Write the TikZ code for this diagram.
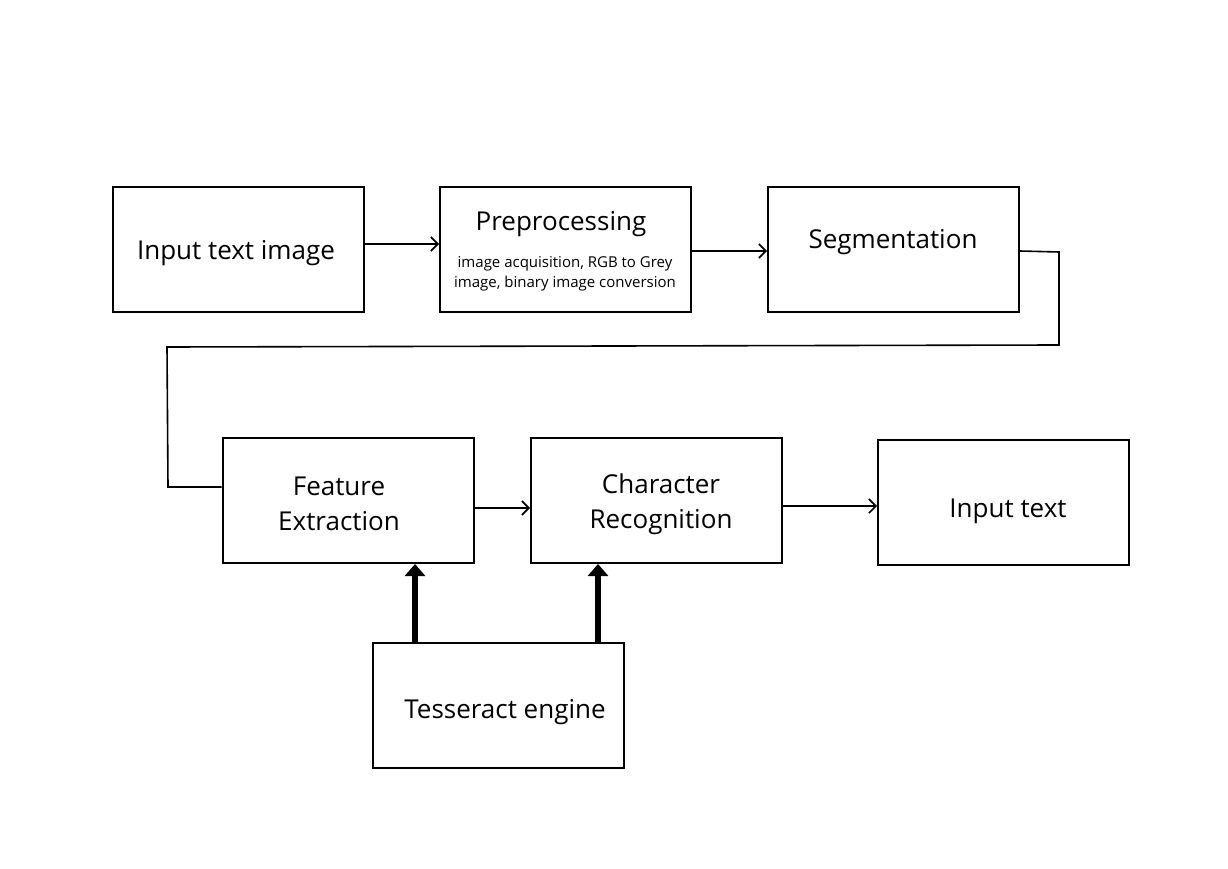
\documentclass[tikz,border=0pt]{standalone}
\usepackage{fontspec}
\setmainfont{Open Sans}
\usetikzlibrary{arrows.meta}
\begin{document}
\begin{tikzpicture}[x=1pt,y=-1pt,
  blk/.style={draw,line width=2pt,minimum width=251pt,minimum height=125pt,inner sep=0pt},
  big/.style={font=\fontsize{26}{35}\selectfont},
  small/.style={font=\fontsize{15}{20}\selectfont,align=center},
  conn/.style={line width=1.6pt},
  arr/.style={conn,-{Straight Barb[length=7pt,width=14pt,line width=1.6pt]}},
  thick arr/.style={line width=6pt,-{Triangle[length=12pt,width=20pt]}}]
\useasboundingbox (0,0) rectangle (1228,869);
\fill[white] (0,0) rectangle (1228,869);
\node[blk] (inp) at (238.5,249.5) {};
\node[big] (inpt) at (236,253) {Input text image};
\node[blk] (pre) at (565.5,249.5) {};
\node[big] (pret) at (561,224) {Preprocessing};
\node[small] (pres) at (565,274) {image acquisition, RGB to Grey\\image, binary image conversion};
\node[blk] (seg) at (893.5,249.5) {};
\node[big] (segt) at (893,242) {Segmentation};
\node[blk] (fe) at (348,500.5) {};
\node[big,align=center] (fet) at (339,504) {Feature\\Extraction};
\node[blk] (cr) at (656.5,500.5) {};
\node[big,align=center] (crt) at (661,504) {Character\\Recognition};
\node[blk] (out) at (1003.5,502.5) {};
\node[big] (outt) at (1008,511) {Input text};
\node[blk] (tes) at (498.5,705.5) {};
\node[big] (test) at (505,712) {Tesseract engine};
\draw[arr] (inp.east |- 0,244) -- (pre.west |- 0,244);
\draw[arr] (pre.east |- 0,251) -- (seg.west |- 0,251);
\draw[conn] (seg.east |- 0,251) -- (1059,252) -- (1059,345) -- (167,347) -- (168,487) -- (fe.west |- 0,487);
\draw[arr] (fe.east |- 0,508) -- (cr.west |- 0,508);
\draw[arr] (cr.east |- 0,506) -- (out.west |- 0,506);
\draw[thick arr] (tes.north -| 415,0) -- (fe.south -| 415,0);
\draw[thick arr] (tes.north -| 598,0) -- (cr.south -| 598,0);
\end{tikzpicture}
\end{document}
